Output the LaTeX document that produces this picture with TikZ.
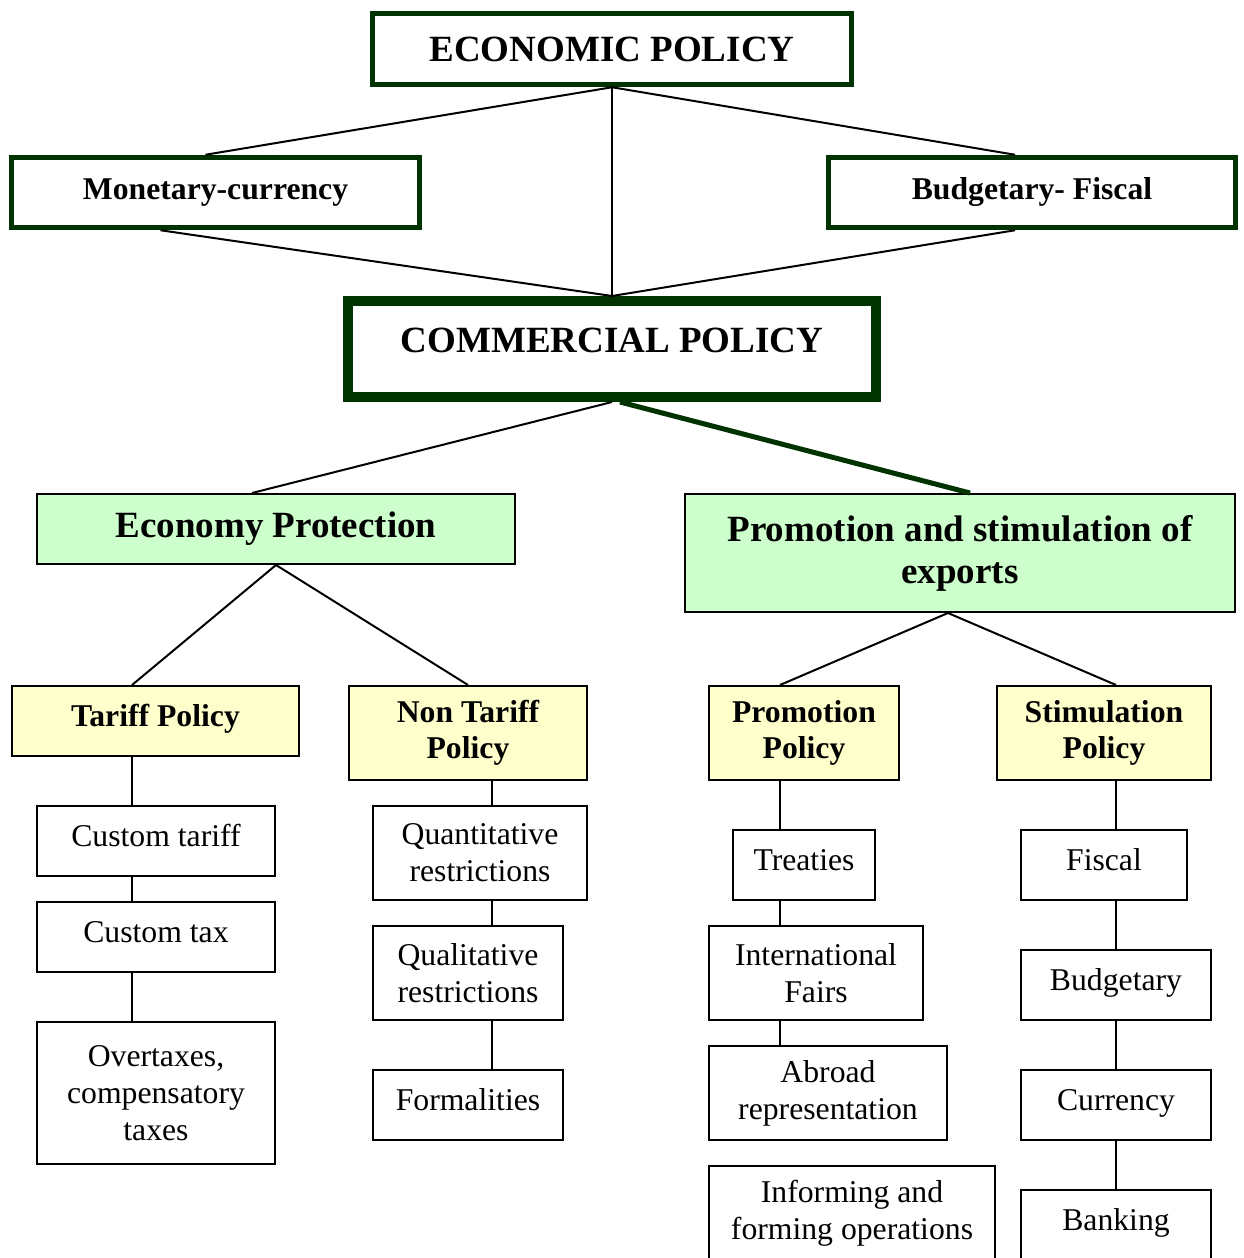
\documentclass[tikz,border=0pt]{standalone}
\usepackage{fontspec}
\setmainfont{Liberation Serif}
\usepackage{tikz}

\definecolor{dkgreen}{RGB}{0,51,0}
\definecolor{palegreen}{RGB}{204,255,204}
\definecolor{paleyellow}{RGB}{255,255,204}

\tikzset{
  big/.style={font=\bfseries\fontsize{37}{42}\selectfont},
  mid/.style={font=\bfseries\fontsize{31.7}{36.5}\selectfont},
  box/.style={draw, line width=2pt, inner sep=0pt, align=center},
  single/.style={text height=21.5pt, text depth=11pt},
  wh/.style 2 args={minimum width=#1pt, minimum height=#2pt},
  policy/.style={box, draw=dkgreen, line width=5.5pt, fill=white},
  aimbox/.style={box, fill=palegreen, big},
  kindbox/.style={box, fill=paleyellow, mid},
  itembox/.style={box, fill=white, font=\fontsize{31.7}{37}\selectfont},
  link/.style={line width=2pt},
}

\begin{document}
\begin{tikzpicture}[x=1pt,y=1pt,yscale=-1]
\useasboundingbox (0,0) rectangle (1243,1258);

%Policy levels
\node [policy, big, wh={479}{71}] (eco) at (612,49) {ECONOMIC POLICY};
\node [policy, mid, single, text depth=7pt, wh={408}{70}] (mon) at (215.5,192.5) {Monetary-currency};
\node [policy, mid, single, text depth=7pt, wh={407}{70}] (bud) at (1032,192.5) {Budgetary- Fiscal};
\node [policy, big, line width=10pt, text height=25pt, text depth=18pt, wh={528}{96}] (com) at (612,349) {COMMERCIAL POLICY};

%Aims of the commercial policy
\node [aimbox, wh={478}{70}] (prot) at (276,529) {Economy Protection};
\node [aimbox, wh={550}{118}] (exp) at (960,553) {Promotion and stimulation of\\exports};

%Kinds of policy
\node [kindbox, single, wh={287}{70}] (tariff) at (155.5,721) {Tariff Policy};
\node [kindbox, wh={238}{94}] (nontariff) at (468,733) {Non Tariff\\Policy};
\node [kindbox, wh={190}{94}] (promo) at (804,733) {Promotion\\Policy};
\node [kindbox, wh={214}{94}] (stim) at (1104,733) {Stimulation\\Policy};

%Tariff instruments
\node [itembox, single, wh={238}{70}] (ctariff) at (156,841) {Custom tariff};
\node [itembox, single, wh={238}{70}] (ctax) at (156,937) {Custom tax};
\node [itembox, wh={238}{142}] (overtax) at (156,1093) {Overtaxes,\\compensatory\\taxes};

%Non tariff instruments
\node [itembox, wh={214}{94}] (quant) at (480,853) {Quantitative\\restrictions};
\node [itembox, wh={190}{94}] (qual) at (468,973) {Qualitative\\restrictions};
\node [itembox, single, wh={190}{70}] (formal) at (468,1105) {Formalities};

%Promotion instruments
\node [itembox, single, wh={142}{70}] (treaty) at (804,865) {Treaties};
\node [itembox, wh={214}{94}] (fairs) at (816,973) {International\\Fairs};
\node [itembox, wh={238}{94}] (abroad) at (828,1093) {Abroad\\representation};
\node [itembox, wh={286}{94}] (inform) at (852,1213) {Informing and\\forming operations};

%Stimulation instruments
\node [itembox, single, wh={166}{70}] (fiscal) at (1104,865) {Fiscal};
\node [itembox, single, wh={190}{70}] (budget) at (1116,985) {Budgetary};
\node [itembox, single, wh={190}{70}] (currency) at (1116,1105) {Currency};
\node [itembox, single, wh={190}{70}] (banking) at (1116,1225) {Banking};

%Upper links
\draw [link] (eco.south) -- ([xshift=-10pt]mon.north);
\draw [link] (eco.south) -- ([xshift=-17pt]bud.north);
\draw [link] (eco.south) -- (com.north);
\draw [link] ([xshift=-55pt]mon.south) -- (com.north);
\draw [link] ([xshift=-17pt]bud.south) -- (com.north);
\draw [link] (com.south) -- ([xshift=-24pt]prot.north);
\draw [line width=5pt, dkgreen] ([xshift=8pt]com.south) -- ([xshift=10pt]exp.north);

%Links to the kinds of policy
\draw [link] (prot.south) -- ([xshift=-23.5pt]tariff.north);
\draw [link] (prot.south) -- (nontariff.north);
\draw [link] ([xshift=-12pt]exp.south) -- ([xshift=-24pt]promo.north);
\draw [link] ([xshift=-12pt]exp.south) -- ([xshift=12pt]stim.north);

%Columns of instruments
\coordinate (tcol) at (132,0);
\coordinate (ncol) at (492,0);
\coordinate (pcol) at (780,0);
\coordinate (scol) at (1116,0);
\foreach \a/\b/\c in {tariff/ctariff/tcol, ctariff/ctax/tcol, ctax/overtax/tcol,
    nontariff/quant/ncol, quant/qual/ncol, qual/formal/ncol,
    promo/treaty/pcol, treaty/fairs/pcol, fairs/abroad/pcol,
    stim/fiscal/scol, fiscal/budget/scol, budget/currency/scol, currency/banking/scol}
  \draw [link] (\a.south -| \c) -- (\b.north -| \c);

\end{tikzpicture}
\end{document}
